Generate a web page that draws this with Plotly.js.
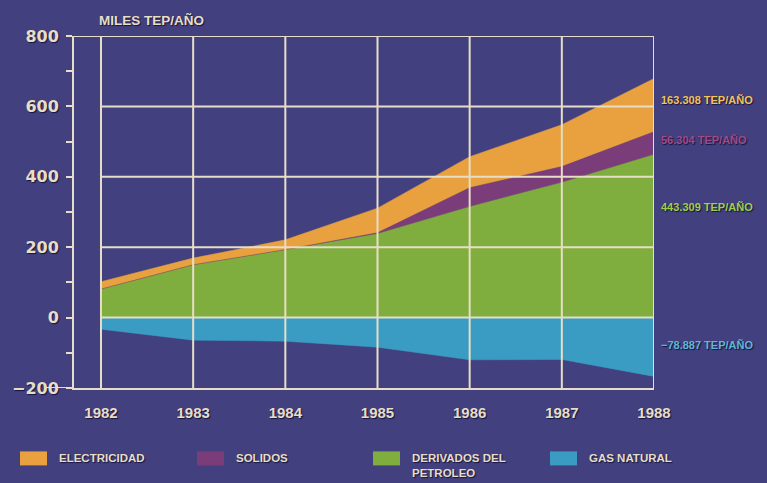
<!DOCTYPE html>
<html><head><meta charset="utf-8">
<script src="https://cdn.plot.ly/plotly-3.0.1.min.js"></script>
<style>html,body{margin:0;padding:0;background:#42407f}</style>
</head><body><div id="chart" style="width:767px;height:483px"></div>
<script>
// ---- data ----
const years = [1982, 1983, 1984, 1985, 1986, 1987, 1988];
const derivados = [81, 150, 193, 238, 315, 384, 463];
const solidos = [0, 0, 0, 3, 54, 45, 65];
const electricidad = [21, 19, 28, 70, 88, 119, 151];
const gasNatural = [-33, -64, -67, -84, -120, -119, -167];
const seriesNames = ['ELECTRICIDAD', 'SOLIDOS', 'DERIVADOS DEL<br>PETROLEO', 'GAS NATURAL'];
const endLabels = ['163.308 TEP/AÑO', '56.304 TEP/AÑO', '443.309 TEP/AÑO', '\u221278.887 TEP/AÑO'];
const yTickVals = [-200, 0, 200, 400, 600, 800];
const yTickText = ['\u2212200', '0', '200', '400', '600', '800'];
const unitTitle = 'MILES TEP/AÑO';

// ---- style ----
const BG = '#42407f';
const CREAM = '#e6dec6';
const colElec = '#e9a03e', colSol = '#7b3c7a', colDer = '#80ae3e', colGas = '#3a9cc3';
const seriesColors = [colElec, colSol, colDer, colGas];
const labelColors = ['#f2c45a', '#a24a86', '#9fd04a', '#5fb6d6'];
const SHADOW = '1px 1px 1px #16143d';
const FONT = 'Liberation Sans, Arial, sans-serif';

const W = 767, H = 483, L = 74, R = 113, T = 36, B = 94.5;
const pw = W - L - R, ph = H - T - B;
const px2x = p => (p - L) / pw;
const py2y = p => (H - B - p) / ph;
const xRange = [years[0] - 27 / 92.2, years[years.length - 1]];

const areaTrace = (y, color, group) => ({
  x: years, y: y, type: 'scatter', mode: 'lines',
  stackgroup: group, fillcolor: color,
  line: {color: color, width: 0.5, shape: 'linear'},
  hoverinfo: 'skip', showlegend: false
});

const traces = [
  areaTrace(derivados, colDer, 'pos'),
  areaTrace(solidos, colSol, 'pos'),
  areaTrace(electricidad, colElec, 'pos'),
  {x: years, y: gasNatural, type: 'scatter', mode: 'lines', fill: 'tozeroy',
   fillcolor: colGas, line: {color: colGas, width: 0.5}, hoverinfo: 'skip', showlegend: false}
];

const shapes = [];
const gl = {color: CREAM, width: 2};
years.forEach(yr => shapes.push({type: 'line', layer: 'above', xref: 'x', yref: 'y',
  x0: yr, x1: yr, y0: yTickVals[0], y1: yTickVals[yTickVals.length - 1], line: gl}));
yTickVals.slice(1).forEach(v => shapes.push({type: 'line', layer: 'above', xref: 'x', yref: 'y',
  x0: v === yTickVals[yTickVals.length - 1] ? xRange[0] : years[0], x1: years[years.length - 1],
  y0: v, y1: v, line: gl}));
// extended base line at -200
shapes.push({type: 'line', layer: 'above', xref: 'paper', yref: 'y',
  x0: px2x(45), x1: 0, y0: yTickVals[0], y1: yTickVals[0], line: gl});

// legend swatches + text
const legendX = [20, 197, 373, 550];
const annotations = [];
seriesNames.forEach((name, i) => {
  shapes.push({type: 'rect', xref: 'paper', yref: 'paper',
    x0: px2x(legendX[i]), x1: px2x(legendX[i] + 27), y0: py2y(466), y1: py2y(452),
    fillcolor: seriesColors[i], line: {width: 0}});
  annotations.push({xref: 'paper', yref: 'paper', x: px2x(legendX[i] + 37), y: py2y(451),
    xanchor: 'left', yanchor: 'top', align: 'left', showarrow: false, text: name,
    font: {family: FONT, size: 11.5, weight: 'bold', color: CREAM, shadow: SHADOW}});
});

// end labels on the right
const endY = [618, 505, 315, -77];
endLabels.forEach((t, i) => annotations.push({xref: 'paper', yref: 'y', x: px2x(659), y: endY[i],
  xanchor: 'left', yanchor: 'middle', showarrow: false, text: t,
  font: {family: FONT, size: 11, weight: 'bold', color: labelColors[i], shadow: SHADOW}}));

// unit title
annotations.push({xref: 'paper', yref: 'paper', x: px2x(97), y: py2y(20), xanchor: 'left', yanchor: 'middle',
  showarrow: false, text: unitTitle,
  font: {family: FONT, size: 13.5, weight: 'bold', color: CREAM, shadow: SHADOW}});

const layout = {
  width: W, height: H,
  margin: {l: L, r: R, t: T, b: B, pad: 0},
  paper_bgcolor: BG, plot_bgcolor: BG,
  showlegend: false,
  xaxis: {range: xRange, tickvals: years, ticktext: years.map(String), showgrid: false, zeroline: false,
    showline: true, linecolor: CREAM, linewidth: 2, ticks: '', ticklabelstandoff: 10,
    tickfont: {family: FONT, size: 15, weight: 'bold', color: CREAM, shadow: SHADOW}},
  yaxis: {range: [yTickVals[0], yTickVals[yTickVals.length - 1]], tickvals: yTickVals, ticktext: yTickText,
    showgrid: false, zeroline: false, showline: true, linecolor: CREAM, linewidth: 2,
    ticks: 'outside', ticklen: 6, tickwidth: 2, tickcolor: CREAM, ticklabelstandoff: 4,
    minor: {dtick: 100, tick0: 0, ticks: 'outside', ticklen: 6, tickwidth: 2, tickcolor: CREAM, showgrid: false},
    tickfont: {family: 'DejaVu Sans, sans-serif', size: 16, weight: 'bold', color: CREAM, shadow: SHADOW}},
  shapes: shapes,
  annotations: annotations
};

Plotly.newPlot('chart', traces, layout, {staticPlot: true, displayModeBar: false});
</script></body></html>
